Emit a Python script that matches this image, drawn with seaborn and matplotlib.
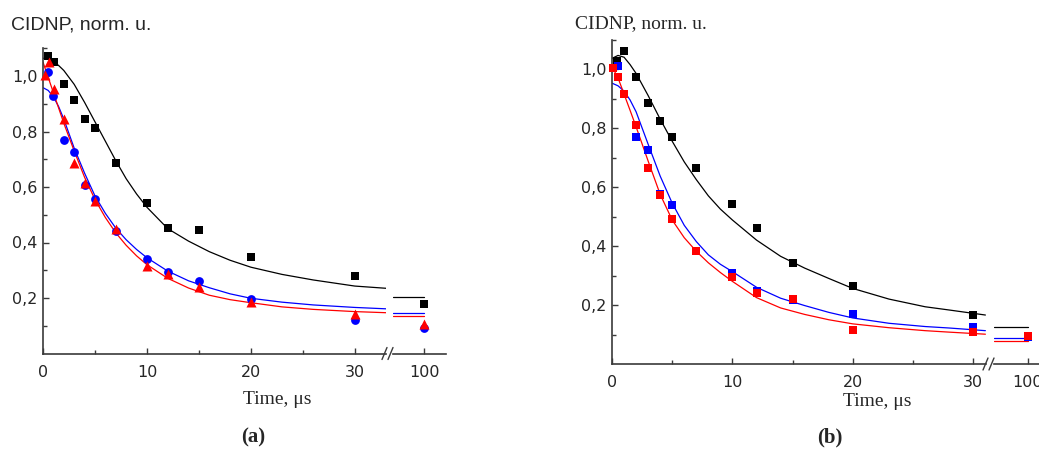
import numpy as np
import pandas as pd
import matplotlib
matplotlib.use("Agg")
import matplotlib.pyplot as plt
from matplotlib.lines import Line2D
from matplotlib.ticker import FixedLocator, NullLocator
import seaborn as sns

# ---------------- panel (a): measured kinetics ----------------
a_black_t = [0.5, 1.1, 2, 3, 4, 5, 7, 10, 12, 15, 20, 30, 100]
a_black_y = [1.072, 1.049, 0.970, 0.912, 0.845, 0.811, 0.685, 0.543, 0.451, 0.445, 0.349, 0.280, 0.178]
a_blue_t = [0.5, 1, 2, 3, 4, 5, 7, 10, 12, 15, 20, 30, 100]
a_blue_y = [1.013, 0.928, 0.769, 0.725, 0.607, 0.556, 0.441, 0.339, 0.295, 0.262, 0.196, 0.121, 0.091]
a_red_t = [0.2, 0.6, 1.1, 2, 3, 4, 5, 7, 10, 12, 15, 20, 30, 100]
a_red_y = [1.004, 1.052, 0.952, 0.845, 0.688, 0.614, 0.551, 0.448, 0.315, 0.288, 0.239, 0.187, 0.142, 0.106]

# panel (a): fitted curves
a_fit_t = [0, 0.5, 1, 1.5, 2, 3, 4, 5, 6, 7, 8, 9, 10, 12, 14, 16, 18, 20, 23, 26, 30, 33]
a_black_fit = [1.064, 1.061, 1.052, 1.038, 1.020, 0.970, 0.905, 0.835, 0.765, 0.695, 0.630, 0.575,
               0.527, 0.450, 0.405, 0.367, 0.336, 0.311, 0.285, 0.265, 0.243, 0.235]
a_blue_fit = [0.958, 0.948, 0.925, 0.890, 0.845, 0.740, 0.650, 0.568, 0.505, 0.452, 0.410, 0.375,
              0.345, 0.297, 0.262, 0.237, 0.215, 0.199, 0.185, 0.175, 0.166, 0.161]
a_red_fit = [1.050, 0.995, 0.940, 0.885, 0.830, 0.730, 0.635, 0.555, 0.490, 0.435, 0.390, 0.352,
             0.320, 0.271, 0.236, 0.210, 0.194, 0.183, 0.168, 0.159, 0.151, 0.147]
a_tail_t = [97.0, 100.0]
a_black_tail = 0.204
a_blue_tail = 0.145
a_red_tail = 0.136

# ---------------- panel (b): measured kinetics ----------------
b_black_t = [0.4, 1, 2, 3, 4, 5, 7, 10, 12, 15, 20, 30, 100]
b_black_y = [1.027, 1.062, 0.974, 0.884, 0.823, 0.768, 0.665, 0.543, 0.460, 0.341, 0.264, 0.166, 0.093]
b_blue_t = [0.5, 1, 2, 3, 4, 5, 7, 10, 12, 15, 20, 30, 100]
b_blue_y = [1.011, 0.916, 0.768, 0.725, 0.575, 0.540, 0.383, 0.310, 0.247, 0.217, 0.170, 0.127, 0.090]
b_red_t = [0.05, 0.5, 1, 2, 3, 4, 5, 7, 10, 12, 15, 20, 30, 100]
b_red_y = [1.002, 0.974, 0.914, 0.810, 0.665, 0.573, 0.490, 0.384, 0.296, 0.240, 0.220, 0.115, 0.107, 0.095]

# panel (b): fitted curves
b_fit_t = [0, 0.5, 1, 1.5, 2, 3, 4, 5, 6, 7, 8, 9, 10, 12, 14, 16, 18, 20, 23, 26, 28, 31]
b_black_fit = [1.036, 1.046, 1.040, 1.015, 0.985, 0.910, 0.830, 0.755, 0.685, 0.625, 0.570, 0.525,
               0.488, 0.420, 0.365, 0.325, 0.290, 0.256, 0.220, 0.194, 0.183, 0.166]
b_blue_fit = [0.952, 0.943, 0.925, 0.895, 0.855, 0.745, 0.637, 0.545, 0.470, 0.415, 0.370, 0.338,
              0.313, 0.260, 0.223, 0.198, 0.175, 0.156, 0.138, 0.127, 0.122, 0.113]
b_red_fit = [1.008, 0.970, 0.915, 0.860, 0.804, 0.688, 0.575, 0.488, 0.428, 0.382, 0.343, 0.310,
             0.280, 0.225, 0.190, 0.168, 0.150, 0.136, 0.123, 0.113, 0.108, 0.101]
b_tail_t = [97.2, 100.0]
b_black_tail = 0.125
b_blue_tail = 0.088
b_red_tail = 0.079

# ---------------- axis text ----------------
y_major = [0.2, 0.4, 0.6, 0.8, 1.0]
y_major_labels = ["0,2", "0,4", "0,6", "0,8", "1,0"]
y_minor = [0.1, 0.3, 0.5, 0.7, 0.9, 1.1]
x_major = [0, 10, 20, 30]
x_minor = [5, 15, 25]
x_tail_major = [100]
y_title = "CIDNP, norm. u."
x_title = "Time, \u03bcs"
panel_tags = ["(a)", "(b)"]

sns.set_style("ticks")
plt.rcParams["font.family"] = ["DejaVu Sans"]

W, H = 1039, 455
fig = plt.figure(figsize=(W / 100, H / 100), dpi=100)
AX_COLOR = "#3a3a3a"


def px_axes(left, right, top, bottom):
    return fig.add_axes([left / W, 1 - bottom / H, (right - left) / W, (bottom - top) / H])


def style_main(ax, xlim):
    ax.set_xlim(*xlim)
    ax.set_ylim(0, 1.1)
    for s in ("top", "right"):
        ax.spines[s].set_visible(False)
    for s in ("left", "bottom"):
        ax.spines[s].set_color(AX_COLOR)
        ax.spines[s].set_linewidth(1.2)
    ax.yaxis.set_major_locator(FixedLocator(y_major))
    ax.set_yticklabels(y_major_labels)
    ax.yaxis.set_minor_locator(FixedLocator(y_minor))
    ax.xaxis.set_major_locator(FixedLocator(x_major))
    ax.set_xticklabels([str(v) for v in x_major])
    ax.xaxis.set_minor_locator(FixedLocator(x_minor))
    ax.tick_params(which="major", direction="in", length=4.5, width=1, color=AX_COLOR, labelsize=11.5)
    ax.tick_params(which="minor", direction="in", length=3, width=1, color=AX_COLOR)
    ax.tick_params(axis="x", which="major", pad=8)
    ax.tick_params(axis="y", which="major", pad=4)
    ax.set_xlabel("")
    ax.set_ylabel("")
    ax.patch.set_alpha(0)


def style_tail(ax, xlim):
    ax.set_xlim(*xlim)
    ax.set_ylim(0, 1.1)
    for s in ("top", "right", "left"):
        ax.spines[s].set_visible(False)
    ax.spines["bottom"].set_color(AX_COLOR)
    ax.spines["bottom"].set_linewidth(1.2)
    ax.yaxis.set_major_locator(NullLocator())
    ax.yaxis.set_minor_locator(NullLocator())
    ax.xaxis.set_major_locator(FixedLocator(x_tail_major))
    ax.set_xticklabels([str(v) for v in x_tail_major])
    ax.xaxis.set_minor_locator(NullLocator())
    ax.tick_params(which="major", direction="in", length=4.5, width=1, color=AX_COLOR,
                   labelsize=11.5, pad=8)
    ax.set_xlabel("")
    ax.set_ylabel("")
    ax.patch.set_alpha(0)


def draw_break(x0, y0):
    # two short slashes across the x axis gap (pixel coordinates)
    for dx in (0, 6):
        fig.add_artist(Line2D([(x0 + dx) / W, (x0 + dx + 5) / W],
                              [1 - (y0 + 6) / H, 1 - (y0 - 6) / H],
                              transform=fig.transFigure, color=AX_COLOR, lw=1.0))


def panel(main, tail, main_end, fit_t, fits, tail_t, tails, points, markers):
    colors = ["black", "blue", "red"]
    for fit, c in zip(fits, colors):
        sns.lineplot(x=fit_t, y=fit, ax=main, color=c, lw=0.9, sort=True)
    for lvl, c in zip(tails, colors):
        sns.lineplot(x=tail_t, y=[lvl, lvl], ax=tail, color=c, lw=0.9)
    for (t, y), c, (m, s) in zip(points, colors, markers):
        df = pd.DataFrame({"t": t, "y": y})
        near = df[df["t"] <= main_end]
        far = df[df["t"] > main_end]
        sns.scatterplot(data=near, x="t", y="y", ax=main, color=c, marker=m, s=s,
                        linewidth=0, zorder=3, clip_on=False)
        sns.scatterplot(data=far, x="t", y="y", ax=tail, color=c, marker=m, s=s,
                        linewidth=0, zorder=3, clip_on=False)


# ---- panel (a) ----
a_main = px_axes(43, 386, 48.25, 353.5)
a_tail = px_axes(393, 446, 48.25, 353.5)
panel(a_main, a_tail, 33, a_fit_t, [a_black_fit, a_blue_fit, a_red_fit],
      a_tail_t, [a_black_tail, a_blue_tail, a_red_tail],
      [(a_black_t, a_black_y), (a_blue_t, a_blue_y), (a_red_t, a_red_y)],
      [("s", 32), ("o", 40), ("^", 52)])
style_main(a_main, (0, 33))
style_tail(a_tail, (97.0, 102.1))
draw_break(382, 353.5)

# ---- panel (b) ----
b_main = px_axes(612, 986, 39.5, 364)
b_tail = px_axes(994, 1046, 39.5, 364)
panel(b_main, b_tail, 31.05, b_fit_t, [b_black_fit, b_blue_fit, b_red_fit],
      b_tail_t, [b_black_tail, b_blue_tail, b_red_tail],
      [(b_black_t, b_black_y), (b_blue_t, b_blue_y), (b_red_t, b_red_y)],
      [("s", 36), ("s", 36), ("s", 36)])
style_main(b_main, (0, 31.05))
style_tail(b_tail, (97.2, 101.5))
draw_break(983, 364)

# ---- titles and tags ----
fig.text(11 / W, 1 - 30 / H, y_title, family="Liberation Sans", fontsize=14, va="baseline", ha="left")
fig.text(575 / W, 1 - 28.5 / H, y_title, family="Liberation Serif", fontsize=14, va="baseline", ha="left")
fig.text(277 / W, 1 - 403.5 / H, x_title, family="Liberation Serif", fontsize=14, va="baseline", ha="center")
fig.text(877 / W, 1 - 406.5 / H, x_title, family="Liberation Serif", fontsize=14, va="baseline", ha="center")
fig.text(253 / W, 1 - 442 / H, panel_tags[0], family="Liberation Serif", fontweight="bold",
         fontsize=15, va="baseline", ha="center")
fig.text(830 / W, 1 - 442 / H, panel_tags[1], family="Liberation Serif", fontweight="bold",
         fontsize=15, va="baseline", ha="center")

fig.savefig("out.png", dpi=100)
